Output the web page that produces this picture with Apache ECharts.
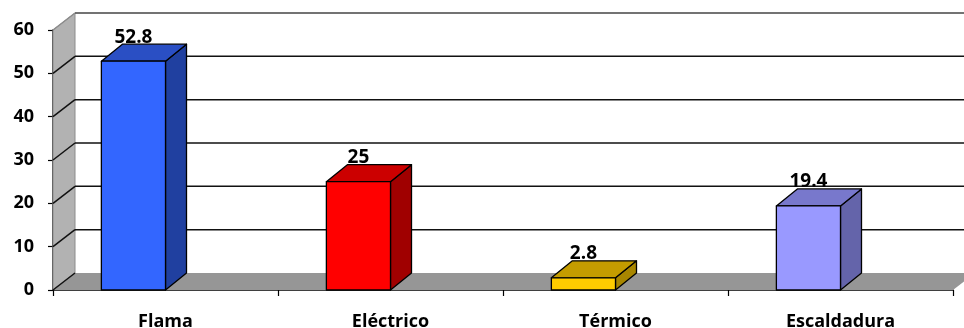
<!DOCTYPE html>
<html>
<head>
<meta charset="utf-8">
<script src="https://cdn.jsdelivr.net/npm/echarts@6/dist/echarts.min.js"></script>
<style>
html, body { margin: 0; padding: 0; background: #fff; }
#chart { width: 964px; height: 328px; }
</style>
</head>
<body>
<div id="chart"></div>
<script>
const categories = ['Flama', 'Eléctrico', 'Térmico', 'Escaldadura'];
const values = [52.8, 25, 2.8, 19.4];
const yTicks = [0, 10, 20, 30, 40, 50, 60];

const frontColors = ['#3366ff', '#ff0000', '#ffcc00', '#9999ff'];
const topColors = ['#2a4fc4', '#cc0000', '#c49c00', '#7878cc'];
const sideColors = ['#2040a0', '#a00000', '#a88600', '#6464aa'];

const DX = 22, DY = -17;   // depth of the walls
const BDX = 21, BDY = -17; // depth of the bars
const FONT = '"Open Sans", "DejaVu Sans", sans-serif';

const chart = echarts.init(document.getElementById('chart'));

// side wall, floor and grid lines on the back wall
function renderWalls(params, api) {
  const cs = params.coordSys;
  const v = api.value(1);
  const y = api.coord([0, v])[1];
  const x0 = cs.x, x1 = cs.x + cs.width;
  const yt = cs.y, yb = cs.y + cs.height;
  const children = [];
  if (params.dataIndex === 0) {
    children.push({
      type: 'polygon',
      shape: { points: [[x0, yt], [x0 + DX, yt + DY], [x0 + DX, yb + DY], [x0, yb]] },
      style: { fill: '#b2b2b2', stroke: '#8c8c8c', lineWidth: 1 }
    });
    children.push({
      type: 'polygon',
      shape: { points: [[x0, yb], [x1, yb], [x1 + DX, yb + DY], [x0 + DX, yb + DY]] },
      style: { fill: '#969696' }
    });
  }
  const isTop = v === yTicks[yTicks.length - 1];
  if (v > 0) {
    children.push({
      type: 'line',
      shape: { x1: x0 + DX, y1: y + DY, x2: x1 + DX + 20, y2: y + DY },
      style: { stroke: isTop ? '#444' : '#111', lineWidth: 1.5 }
    });
  }
  children.push({
    type: 'line',
    shape: { x1: x0, y1: y, x2: x0 + DX, y2: y + DY },
    style: { stroke: isTop ? '#8c8c8c' : '#111', lineWidth: 1.5 }
  });
  return { type: 'group', children: children };
}

function renderBar(params, api) {
  const i = api.value(0);
  const v = api.value(1);
  const top = api.coord([i, v]);
  const base = api.coord([i, 0]);
  const w = api.size([1, 0])[0] * 0.285;
  const xr = top[0], xl = xr - w;
  const yt = top[1], yb = base[1];
  const line = { stroke: '#000', lineWidth: 1.3, lineJoin: 'round' };
  return {
    type: 'group',
    children: [
      {
        type: 'polygon',
        shape: { points: [[xr, yt], [xr + BDX, yt + BDY], [xr + BDX, yb + BDY], [xr, yb]] },
        style: Object.assign({ fill: sideColors[i] }, line)
      },
      {
        type: 'polygon',
        shape: { points: [[xl, yt], [xr, yt], [xr + BDX, yt + BDY], [xl + BDX, yt + BDY]] },
        style: Object.assign({ fill: topColors[i] }, line)
      },
      {
        type: 'rect',
        shape: { x: xl, y: yt, width: w, height: yb - yt },
        style: Object.assign({ fill: frontColors[i] }, line)
      },
      {
        type: 'text',
        style: {
          text: String(v),
          x: (xl + xr) / 2,
          y: yt + BDY - 7,
          align: 'center',
          verticalAlign: 'middle',
          font: 'bold 19px ' + FONT,
          fill: '#000'
        }
      }
    ]
  };
}

chart.setOption({
  animation: false,
  grid: { left: 53, right: 11, top: 30, bottom: 38, containLabel: false, outerBoundsMode: 'none' },
  xAxis: {
    type: 'category',
    data: categories,
    axisLine: { lineStyle: { color: '#000', width: 1.5 } },
    axisTick: { show: true, length: 6, lineStyle: { color: '#000', width: 1.2 } },
    axisLabel: { color: '#000', fontSize: 18, fontWeight: 'bold', fontFamily: FONT, margin: 23 },
    splitLine: { show: false }
  },
  yAxis: {
    type: 'value',
    min: 0,
    max: 60,
    interval: 10,
    axisLine: { show: true, lineStyle: { color: '#000', width: 1.5 } },
    axisTick: { show: true, length: 5, lineStyle: { color: '#000', width: 1.2 } },
    axisLabel: { color: '#000', fontSize: 18, fontWeight: 'bold', fontFamily: FONT, margin: 19 },
    splitLine: { show: false }
  },
  series: [
    {
      type: 'custom',
      z: 1,
      silent: true,
      renderItem: renderWalls,
      encode: { x: 0, y: 1 },
      data: yTicks.map(t => [0, t])
    },
    {
      type: 'custom',
      z: 3,
      renderItem: renderBar,
      encode: { x: 0, y: 1 },
      data: values.map((v, i) => [i, v])
    }
  ]
});
</script>
</body>
</html>
